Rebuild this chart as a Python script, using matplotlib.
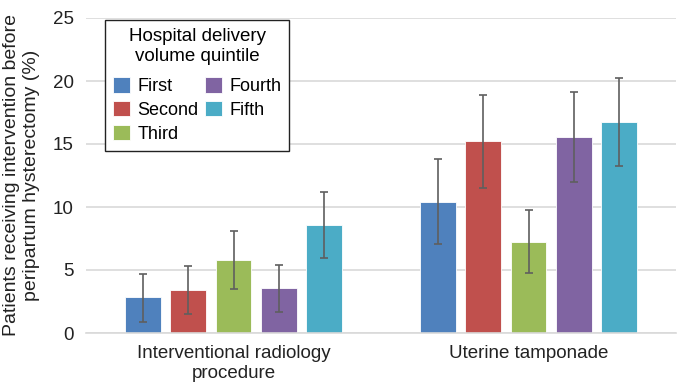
import matplotlib
matplotlib.use("Agg")
import matplotlib.pyplot as plt
import numpy as np

plt.rcParams['font.family'] = ['Liberation Sans', 'DejaVu Sans']

categories = ["Interventional radiology\nprocedure", "Uterine tamponade"]
quintiles = ["First", "Second", "Third", "Fourth", "Fifth"]
colors = ["#4F81BD", "#C0504D", "#9BBB59", "#8064A2", "#4BACC6"]

values = {
    "First":  [2.83, 10.42],
    "Second": [3.41, 15.21],
    "Third":  [5.79, 7.25],
    "Fourth": [3.55, 15.56],
    "Fifth":  [8.55, 16.75],
}
err_low = {
    "First":  [0.87, 7.04],
    "Second": [1.51, 11.53],
    "Third":  [3.52, 4.74],
    "Fourth": [1.64, 11.96],
    "Fifth":  [5.93, 13.25],
}
err_high = {
    "First":  [4.71, 13.83],
    "Second": [5.32, 18.89],
    "Third":  [8.10, 9.79],
    "Fourth": [5.42, 19.15],
    "Fifth":  [11.20, 20.26],
}

fig = plt.figure(figsize=(6.81, 3.86), dpi=100)
ax = fig.add_axes([86/681, 1-333/386, 590/681, 315/386])

x = np.arange(len(categories))
slot = 0.1536
width = 0.12
for i, q in enumerate(quintiles):
    v = np.array(values[q])
    lo = v - np.array(err_low[q])
    hi = np.array(err_high[q]) - v
    ax.bar(x + (i - 2) * slot, v, width, color=colors[i], edgecolor='#ffffff',
           linewidth=0.6, label=q, zorder=2)
    ax.errorbar(x + (i - 2) * slot, v, yerr=[lo, hi], fmt='none', ecolor='#5f5f5f',
                elinewidth=1.2, capsize=3, capthick=1.2, zorder=3)

ax.set_xlim(-0.5, 1.5)
ax.set_ylim(0, 25)
ax.set_yticks([0, 5, 10, 15, 20, 25])
ax.set_xticks(x)
ax.set_xticklabels(categories, fontsize=13.5, color='#222222')
ax.tick_params(axis='y', labelsize=13.5, length=0, pad=9, colors='#222222')
ax.tick_params(axis='x', length=0, pad=9)
ax.yaxis.grid(True, color='#d9d9d9', linewidth=1.2, zorder=0)
ax.set_axisbelow(True)
for s in ['top', 'right', 'left']:
    ax.spines[s].set_visible(False)
ax.spines['bottom'].set_color('#d9d9d9')
ax.spines['bottom'].set_linewidth(1.2)

ylab = ax.set_ylabel("Patients receiving intervention before\nperipartum hysterectomy (%)",
                     fontsize=14, color='#222222', labelpad=9, linespacing=1.2)
ylab.set_multialignment('center')

leg = ax.legend(title="Hospital delivery\nvolume quintile", ncol=2, loc='upper left',
                bbox_to_anchor=(19/590, 0.994), borderaxespad=0,
                fontsize=13, title_fontsize=13.5,
                frameon=True, fancybox=False, edgecolor='#222222', framealpha=1,
                handlelength=0.95, handleheight=0.95, columnspacing=0.35,
                handletextpad=0.4, labelspacing=0.32, borderpad=0.45)
leg.get_frame().set_linewidth(1.0)
leg.get_title().set_multialignment('center')
leg.get_title().set_linespacing(1.2)
leg._legend_box.sep = 9

fig.savefig("out.png", dpi=100)
